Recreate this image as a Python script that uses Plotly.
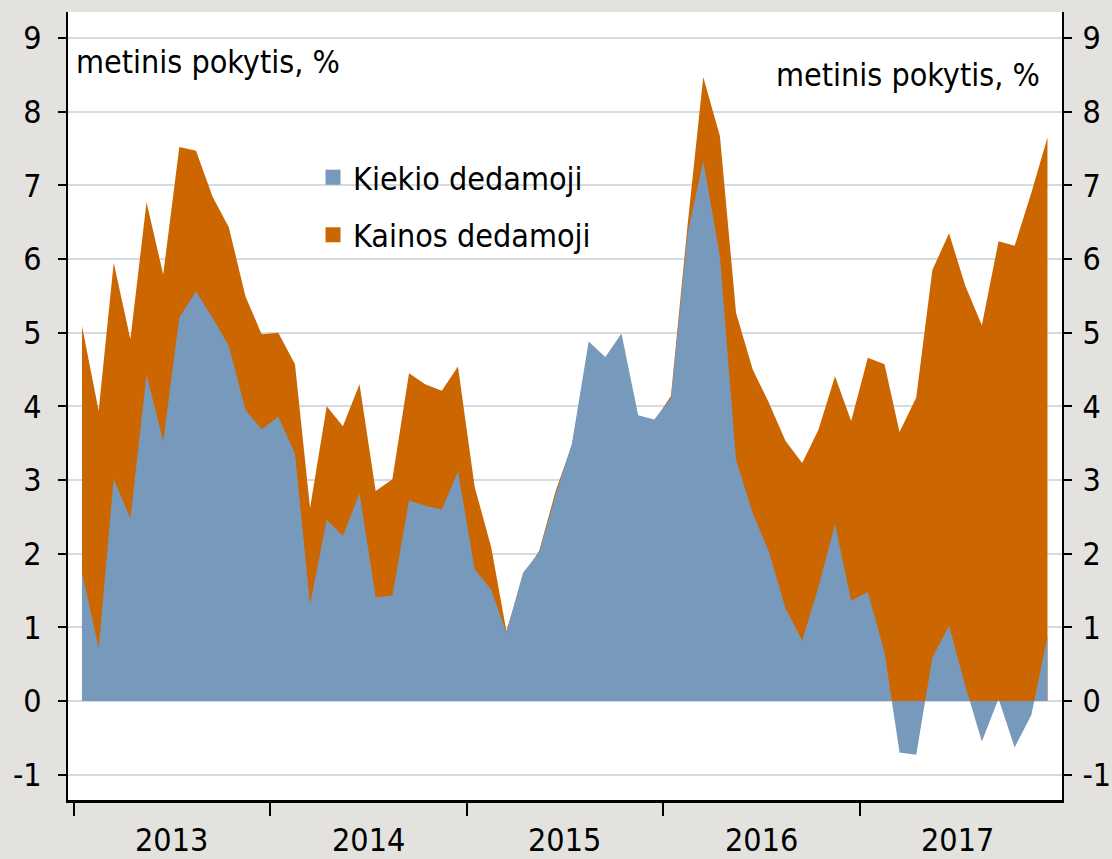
import numpy as np
import pandas as pd
import plotly.graph_objects as go

# Monthly observations, Jan 2013 - Dec 2017
months = pd.date_range("2013-01-01", periods=60, freq="MS")

# Volume (quantity) component of the annual change, %
kiekio = [
    1.75, 0.72, 3.01, 2.48, 4.43, 3.53, 5.21, 5.56, 5.20, 4.82, 3.95, 3.69,
    3.86, 3.36, 1.31, 2.46, 2.24, 2.82, 1.41, 1.43, 2.72, 2.65, 2.60, 3.12,
    1.79, 1.51, 0.93, 1.74, 2.02, 2.81, 3.50, 4.88, 4.67, 4.99, 3.88, 3.82,
    4.11, 6.35, 7.33, 6.04, 3.27, 2.55, 2.03, 1.26, 0.82, 1.54, 2.40, 1.36,
    1.48, 0.66, -0.70, -0.73, 0.59, 1.02, 0.21, -0.55, 0.03, -0.63, -0.19, 0.88,
]

# Price component of the annual change, %
kainos = [
    3.34, 3.22, 2.94, 2.43, 2.34, 2.26, 2.31, 1.91, 1.64, 1.61, 1.54, 1.29,
    1.14, 1.21, 1.31, 1.54, 1.49, 1.48, 1.44, 1.58, 1.73, 1.65, 1.61, 1.42,
    1.12, 0.57, 0.02, -0.05, 0.02, 0.05, -0.03, -0.10, -0.05, -0.08, -0.04, -0.02,
    0.03, 0.12, 1.14, 1.63, 2.00, 1.95, 2.02, 2.27, 2.41, 2.14, 2.01, 2.44,
    3.18, 3.91, 4.35, 4.85, 5.26, 5.33, 5.43, 5.65, 6.21, 6.81, 7.09, 6.77,
]

years = [2013, 2014, 2015, 2016, 2017]
y_ticks = list(range(-1, 10))
y_ticktext = [str(v) for v in y_ticks]

BLUE = "#7799bb"
ORANGE = "#cc6600"
GRID = "#d3dce3"
FONT = "DejaVu Sans Condensed, DejaVu Sans"

x_mid = months + pd.Timedelta(days=15)
total = np.array(kiekio) + np.array(kainos)

fig = go.Figure()

# Orange area: overall change (volume + price), drawn first
fig.add_trace(go.Scatter(
    x=x_mid, y=total, mode="none", fill="tozeroy", fillcolor=ORANGE,
    showlegend=False, hoverinfo="skip",
))
# Blue area: volume component in front of it
fig.add_trace(go.Scatter(
    x=x_mid, y=kiekio, mode="none", fill="tozeroy", fillcolor=BLUE,
    showlegend=False, hoverinfo="skip",
))

# Legend keys
fig.add_trace(go.Scatter(
    x=[None], y=[None], mode="markers", name="Kiekio dedamoji",
    marker=dict(symbol="square", size=15, color=BLUE), legendgroup="a",
))
fig.add_trace(go.Scatter(
    x=[None], y=[None], mode="markers", name="Kainos dedamoji",
    marker=dict(symbol="square", size=15, color=ORANGE), legendgroup="b",
))

# Invisible trace to bring up the right-hand axis
fig.add_trace(go.Scatter(
    x=[x_mid[0]], y=[None], yaxis="y2", mode="none",
    showlegend=False, hoverinfo="skip",
))

y_range = [-1.344, 9.353]
axis_font = dict(family=FONT, size=32, color="black")
text_font = dict(family=FONT, size=32, color="black")

fig.update_layout(
    width=1112, height=859,
    margin=dict(l=68, r=50, t=12, b=59, autoexpand=False),
    paper_bgcolor="#e3e2de",
    plot_bgcolor="white",
    font=text_font,
    xaxis=dict(
        type="date", automargin=False,
        range=["2012-12-21", "2018-01-12"],
        tickvals=[f"{y}-01-01" for y in years],
        showticklabels=False,
        ticks="outside", ticklen=13, tickwidth=1.5, tickcolor="black",
        showgrid=False, zeroline=False,
        showline=True, linecolor="black", linewidth=2.5,
    ),
    yaxis=dict(
        range=y_range, tickvals=y_ticks, ticktext=y_ticktext, automargin=False,
        ticks="outside", ticklen=8, tickwidth=1.5, tickcolor="black",
        tickfont=axis_font, ticklabelstandoff=10,
        showgrid=True, gridcolor=GRID, gridwidth=2,
        zeroline=True, zerolinecolor=GRID, zerolinewidth=2,
        showline=True, linecolor="black", linewidth=2,
    ),
    yaxis2=dict(
        overlaying="y", side="right", matches="y", automargin=False,
        range=y_range, tickvals=y_ticks, ticktext=y_ticktext,
        ticks="outside", ticklen=8, tickwidth=1.5, tickcolor="black",
        tickfont=axis_font, ticklabelstandoff=4,
        showgrid=False, zeroline=False,
        showline=True, linecolor="black", linewidth=2,
    ),
    legend=dict(
        x=0.2465, y=0.825, xanchor="left", yanchor="top",
        bgcolor="rgba(0,0,0,0)", borderwidth=0,
        font=text_font,
        tracegroupgap=13, itemwidth=30,
    ),
    showlegend=True,
)

# Year labels centred under each calendar year
for y in years:
    fig.add_annotation(
        x=f"{y}-07-02", y=-0.051, xref="x", yref="paper",
        text=str(y), showarrow=False, font=axis_font,
        xanchor="center", yanchor="middle",
    )

# Axis unit notes
fig.add_annotation(
    x=0.006, y=8.67, xref="paper", yref="y", text="metinis pokytis, %",
    showarrow=False, xanchor="left", yanchor="middle", font=text_font,
)
fig.add_annotation(
    x=0.98, y=8.50, xref="paper", yref="y", text="metinis pokytis, %",
    showarrow=False, xanchor="right", yanchor="middle", font=text_font,
)

fig.write_html("out.html")
